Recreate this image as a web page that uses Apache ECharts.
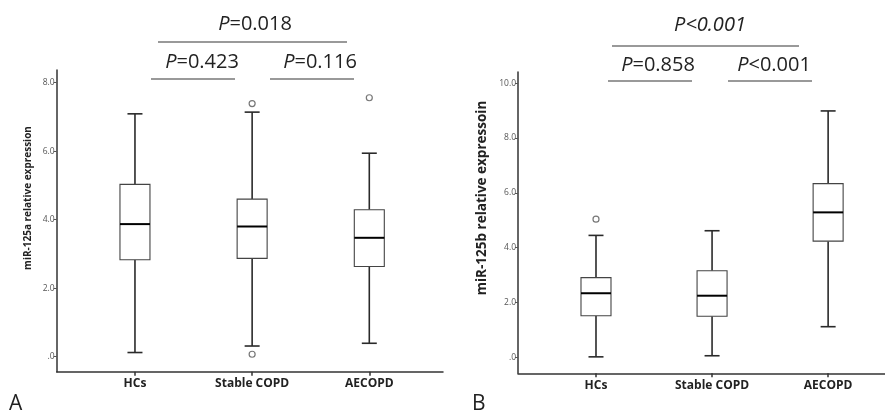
<!DOCTYPE html>
<html>
<head>
<meta charset="utf-8">
<script src="https://cdn.jsdelivr.net/npm/echarts@6/dist/echarts.min.js"></script>
<style>html,body{margin:0;padding:0;background:#fff}#c{width:885px;height:412px}</style>
</head>
<body>
<div id="c"></div>
<script>
// ---- data ----
const categories = ['HCs', 'Stable COPD', 'AECOPD'];
// [min, Q1, median, Q3, max] per category
const mir125aBox = [
  [0.12, 2.83, 3.87, 5.03, 7.09],
  [0.31, 2.87, 3.80, 4.60, 7.14],
  [0.39, 2.63, 3.47, 4.29, 5.94]
];
const mir125aOutliers = [[1, 7.39], [1, 0.07], [2, 7.56]];
const mir125bBox = [
  [0.02, 1.52, 2.34, 2.91, 4.45],
  [0.06, 1.50, 2.25, 3.16, 4.62],
  [1.12, 4.24, 5.29, 6.34, 8.99]
];
const mir125bOutliers = [[0, 5.04]];
const yTicksA = [0, 2, 4, 6, 8];
const yTickLabelsA = ['.0', '2.0', '4.0', '6.0', '8.0'];
const yTicksB = [0, 2, 4, 6, 8, 10];
const yTickLabelsB = ['.0', '2.0', '4.0', '6.0', '8.0', '10.0'];
const pValuesA = ['0.018', '0.423', '0.116'];
const pValuesB = ['<0.001', '=0.858', '<0.001'];
const yTitleA = 'miR-125a relative expression';
const yTitleB = 'miR-125b relative expressoin';

const FONT = '"Open Sans", "Noto Sans", sans-serif';

function boxData(box) {
  return box.map((b, i) => [i].concat(b));
}

function renderBox(params, api) {
  const x = api.value(0);
  const mn = api.coord([x, api.value(1)]);
  const q1 = api.coord([x, api.value(2)]);
  const md = api.coord([x, api.value(3)]);
  const q3 = api.coord([x, api.value(4)]);
  const mx = api.coord([x, api.value(5)]);
  const cx = mn[0];
  const bw = 15, cw = 7.5;
  const dark = '#2a2a2a';
  return {
    type: 'group',
    children: [
      {type: 'line', shape: {x1: cx, y1: mx[1], x2: cx, y2: q3[1]}, style: {stroke: dark, lineWidth: 1.6}},
      {type: 'line', shape: {x1: cx, y1: q1[1], x2: cx, y2: mn[1]}, style: {stroke: dark, lineWidth: 1.6}},
      {type: 'line', shape: {x1: cx - cw, y1: mx[1], x2: cx + cw, y2: mx[1]}, style: {stroke: dark, lineWidth: 1.6}},
      {type: 'line', shape: {x1: cx - cw, y1: mn[1], x2: cx + cw, y2: mn[1]}, style: {stroke: dark, lineWidth: 1.6}},
      {type: 'rect', shape: {x: cx - bw, y: q3[1], width: 2 * bw, height: q1[1] - q3[1]}, style: {fill: '#fff', stroke: '#444', lineWidth: 1.1}},
      {type: 'line', shape: {x1: cx - bw, y1: md[1], x2: cx + bw, y2: md[1]}, style: {stroke: '#000', lineWidth: 2}}
    ]
  };
}

function xAxisCfg(gridIndex, min, max) {
  return {
    type: 'value', gridIndex, min, max,
    splitLine: {show: false},
    axisLine: {show: true, onZero: false, lineStyle: {color: '#333', width: 1.5}},
    axisTick: {show: true, customValues: [0, 1, 2], length: 4, lineStyle: {color: '#333', width: 1.5}},
    axisLabel: {
      customValues: [0, 1, 2], formatter: v => categories[Math.round(v)],
      fontFamily: FONT, fontWeight: 'bold', fontSize: 12, color: '#222', margin: 6
    }
  };
}

function yAxisCfg(gridIndex, min, max, ticks, labels) {
  return {
    type: 'value', gridIndex, min, max,
    splitLine: {show: false},
    axisLine: {show: true, onZero: false, lineStyle: {color: '#333', width: 1.5}},
    axisTick: {show: true, customValues: ticks, length: 3, lineStyle: {color: '#555', width: 1}},
    axisLabel: {
      customValues: ticks, formatter: v => labels[ticks.indexOf(v)],
      fontFamily: FONT, fontSize: 8.5, color: '#555', margin: 2
    }
  };
}

function pText(x, y, val, allItalic) {
  return {
    type: 'text', x, y,
    style: {
      text: allItalic ? '{i|P' + val + '}' : '{i|P}' + val,
      rich: {i: {fontStyle: 'italic', fontFamily: FONT, fontSize: 20, fill: '#222'}},
      fontFamily: FONT, fontSize: 20, fill: '#222',
      align: 'center', verticalAlign: 'middle'
    }
  };
}
function hLine(x1, x2, y) {
  return {type: 'line', shape: {x1, y1: y, x2, y2: y}, style: {stroke: '#777', lineWidth: 1.5}};
}
function yTitle(x, y, text, size) {
  return {
    type: 'text', x, y, rotation: Math.PI / 2,
    style: {text, fontFamily: FONT, fontWeight: 'bold', fontSize: size, fill: '#222',
            align: 'center', verticalAlign: 'middle'}
  };
}

const chart = echarts.init(document.getElementById('c'), null, {renderer: 'canvas'});
chart.setOption({
  animation: false,
  backgroundColor: '#fff',
  grid: [
    {left: 56.7, top: 70, width: 386.3, height: 301.7},
    {left: 518, top: 72, width: 367, height: 301.3}
  ],
  xAxis: [xAxisCfg(0, -0.668, 2.629), xAxisCfg(1, -0.672, 2.49)],
  yAxis: [
    yAxisCfg(0, -0.44, 8.37, yTicksA, yTickLabelsA),
    yAxisCfg(1, -0.58, 10.41, yTicksB, yTickLabelsB)
  ],
  series: [
    {type: 'custom', xAxisIndex: 0, yAxisIndex: 0, data: boxData(mir125aBox), renderItem: renderBox},
    {type: 'scatter', xAxisIndex: 0, yAxisIndex: 0, data: mir125aOutliers, symbol: 'circle', symbolSize: 6,
     itemStyle: {color: '#fff', borderColor: '#555', borderWidth: 1.2}},
    {type: 'custom', xAxisIndex: 1, yAxisIndex: 1, data: boxData(mir125bBox), renderItem: renderBox},
    {type: 'scatter', xAxisIndex: 1, yAxisIndex: 1, data: mir125bOutliers, symbol: 'circle', symbolSize: 6,
     itemStyle: {color: '#fff', borderColor: '#555', borderWidth: 1.2}}
  ],
  graphic: [
    yTitle(28, 198, yTitleA, 10),
    yTitle(482, 198, yTitleB, 13.5),
    pText(255, 24, '=' + pValuesA[0]),
    hLine(158, 347, 42),
    pText(202, 62, '=' + pValuesA[1]),
    hLine(151, 235, 79),
    pText(320, 62, '=' + pValuesA[2]),
    hLine(270, 354, 79),
    pText(710, 25, pValuesB[0], true),
    hLine(612, 799, 46),
    pText(658, 65, pValuesB[1]),
    hLine(608, 692, 81),
    pText(774, 65, pValuesB[2]),
    hLine(728, 812, 81),
    {type: 'text', x: 9, y: 394, style: {text: 'A', fontFamily: FONT, fontSize: 21, fill: '#222'}},
    {type: 'text', x: 472, y: 394, style: {text: 'B', fontFamily: FONT, fontSize: 21, fill: '#222'}}
  ]
});
</script>
</body>
</html>
